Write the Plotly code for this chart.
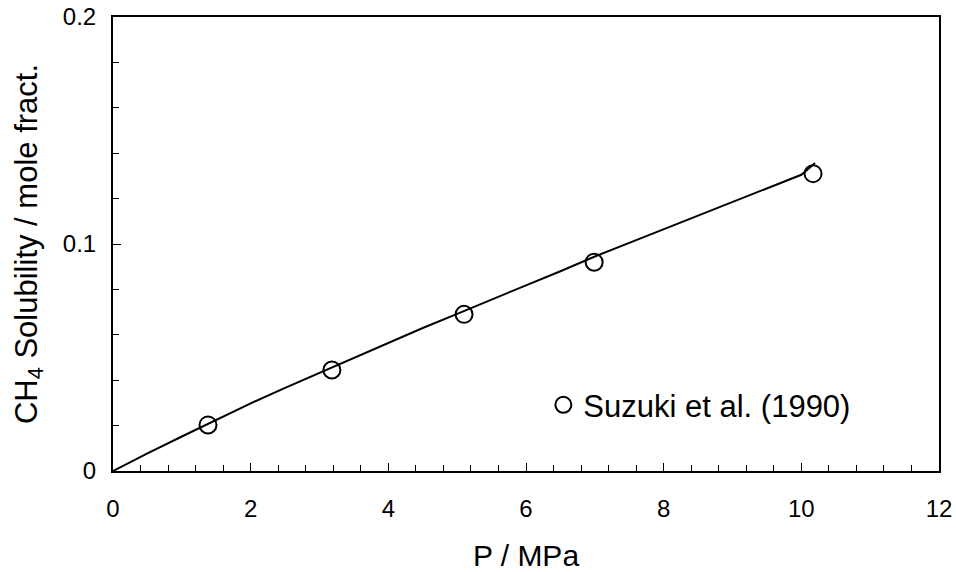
import plotly.graph_objects as go

# Experimental data (Suzuki et al., 1990)
exp_p = [1.38, 3.18, 5.1, 6.99, 10.17]
exp_x = [0.0203, 0.0445, 0.069, 0.092, 0.131]

# Model curve
calc_p = [0, 0.5, 1, 1.5, 2, 2.5, 3, 3.5, 4, 4.5, 5, 5.5, 6, 6.5, 7, 7.5, 8, 8.5, 9, 9.5, 10, 10.2]
calc_x = [0, 0.0078, 0.0152, 0.0226, 0.0298, 0.0366, 0.0432, 0.0498, 0.0565, 0.0630, 0.0692,
          0.0756, 0.0818, 0.0880, 0.0945, 0.1005, 0.1065, 0.1125, 0.1185, 0.1245, 0.1305, 0.1357]

FONT = "Liberation Sans, Arial, sans-serif"

fig = go.Figure()
fig.add_trace(go.Scatter(x=calc_p, y=calc_x, mode="lines",
                         line=dict(color="black", width=2), showlegend=False))
fig.add_trace(go.Scatter(x=exp_p, y=exp_x, mode="markers", name="Suzuki et al. (1990)",
                         marker=dict(symbol="circle-open", size=17, color="black",
                                     line=dict(width=2, color="black"))))

fig.update_layout(
    width=956, height=572,
    margin=dict(l=113, r=17, t=17, b=101, autoexpand=False),
    paper_bgcolor="white", plot_bgcolor="white",
    font=dict(family=FONT, size=24, color="black"),
    legend=dict(x=0.521, y=0.145, xanchor="left", yanchor="middle",
                bgcolor="rgba(0,0,0,0)", font=dict(family=FONT, size=31, color="black"),
                itemwidth=30),
    xaxis=dict(range=[0, 12], tickvals=[0, 2, 4, 6, 8, 10, 12], ticks="inside", ticklen=8,
               tickwidth=1, tickcolor="black", showgrid=False, zeroline=False,
               showline=True, linecolor="black", linewidth=2, mirror=True, automargin=False,
               tickfont=dict(family=FONT, size=24, color="black"), ticklabelstandoff=15,
               title=dict(text="P / MPa", standoff=27, font=dict(family=FONT, size=30, color="black")),
               minor=dict(dtick=0.4, ticks="inside", ticklen=6, tickcolor="black", tickwidth=1)),
    yaxis=dict(range=[0, 0.2], tickvals=[0, 0.1, 0.2], ticktext=["0", "0.1", "0.2"],
               ticks="inside", ticklen=8, automargin=False,
               tickwidth=1, tickcolor="black", showgrid=False, zeroline=False,
               showline=True, linecolor="black", linewidth=2, mirror=True,
               tickfont=dict(family=FONT, size=24, color="black"), ticklabelstandoff=10,
               title=dict(text="CH<sub>4</sub> Solubility / mole fract.", standoff=16,
                          font=dict(family=FONT, size=31, color="black")),
               minor=dict(dtick=0.02, ticks="inside", ticklen=6, tickcolor="black", tickwidth=1)),
)

fig.write_html("out.html", config={"displayModeBar": False},
               post_script="document.body.style.margin='0';")
